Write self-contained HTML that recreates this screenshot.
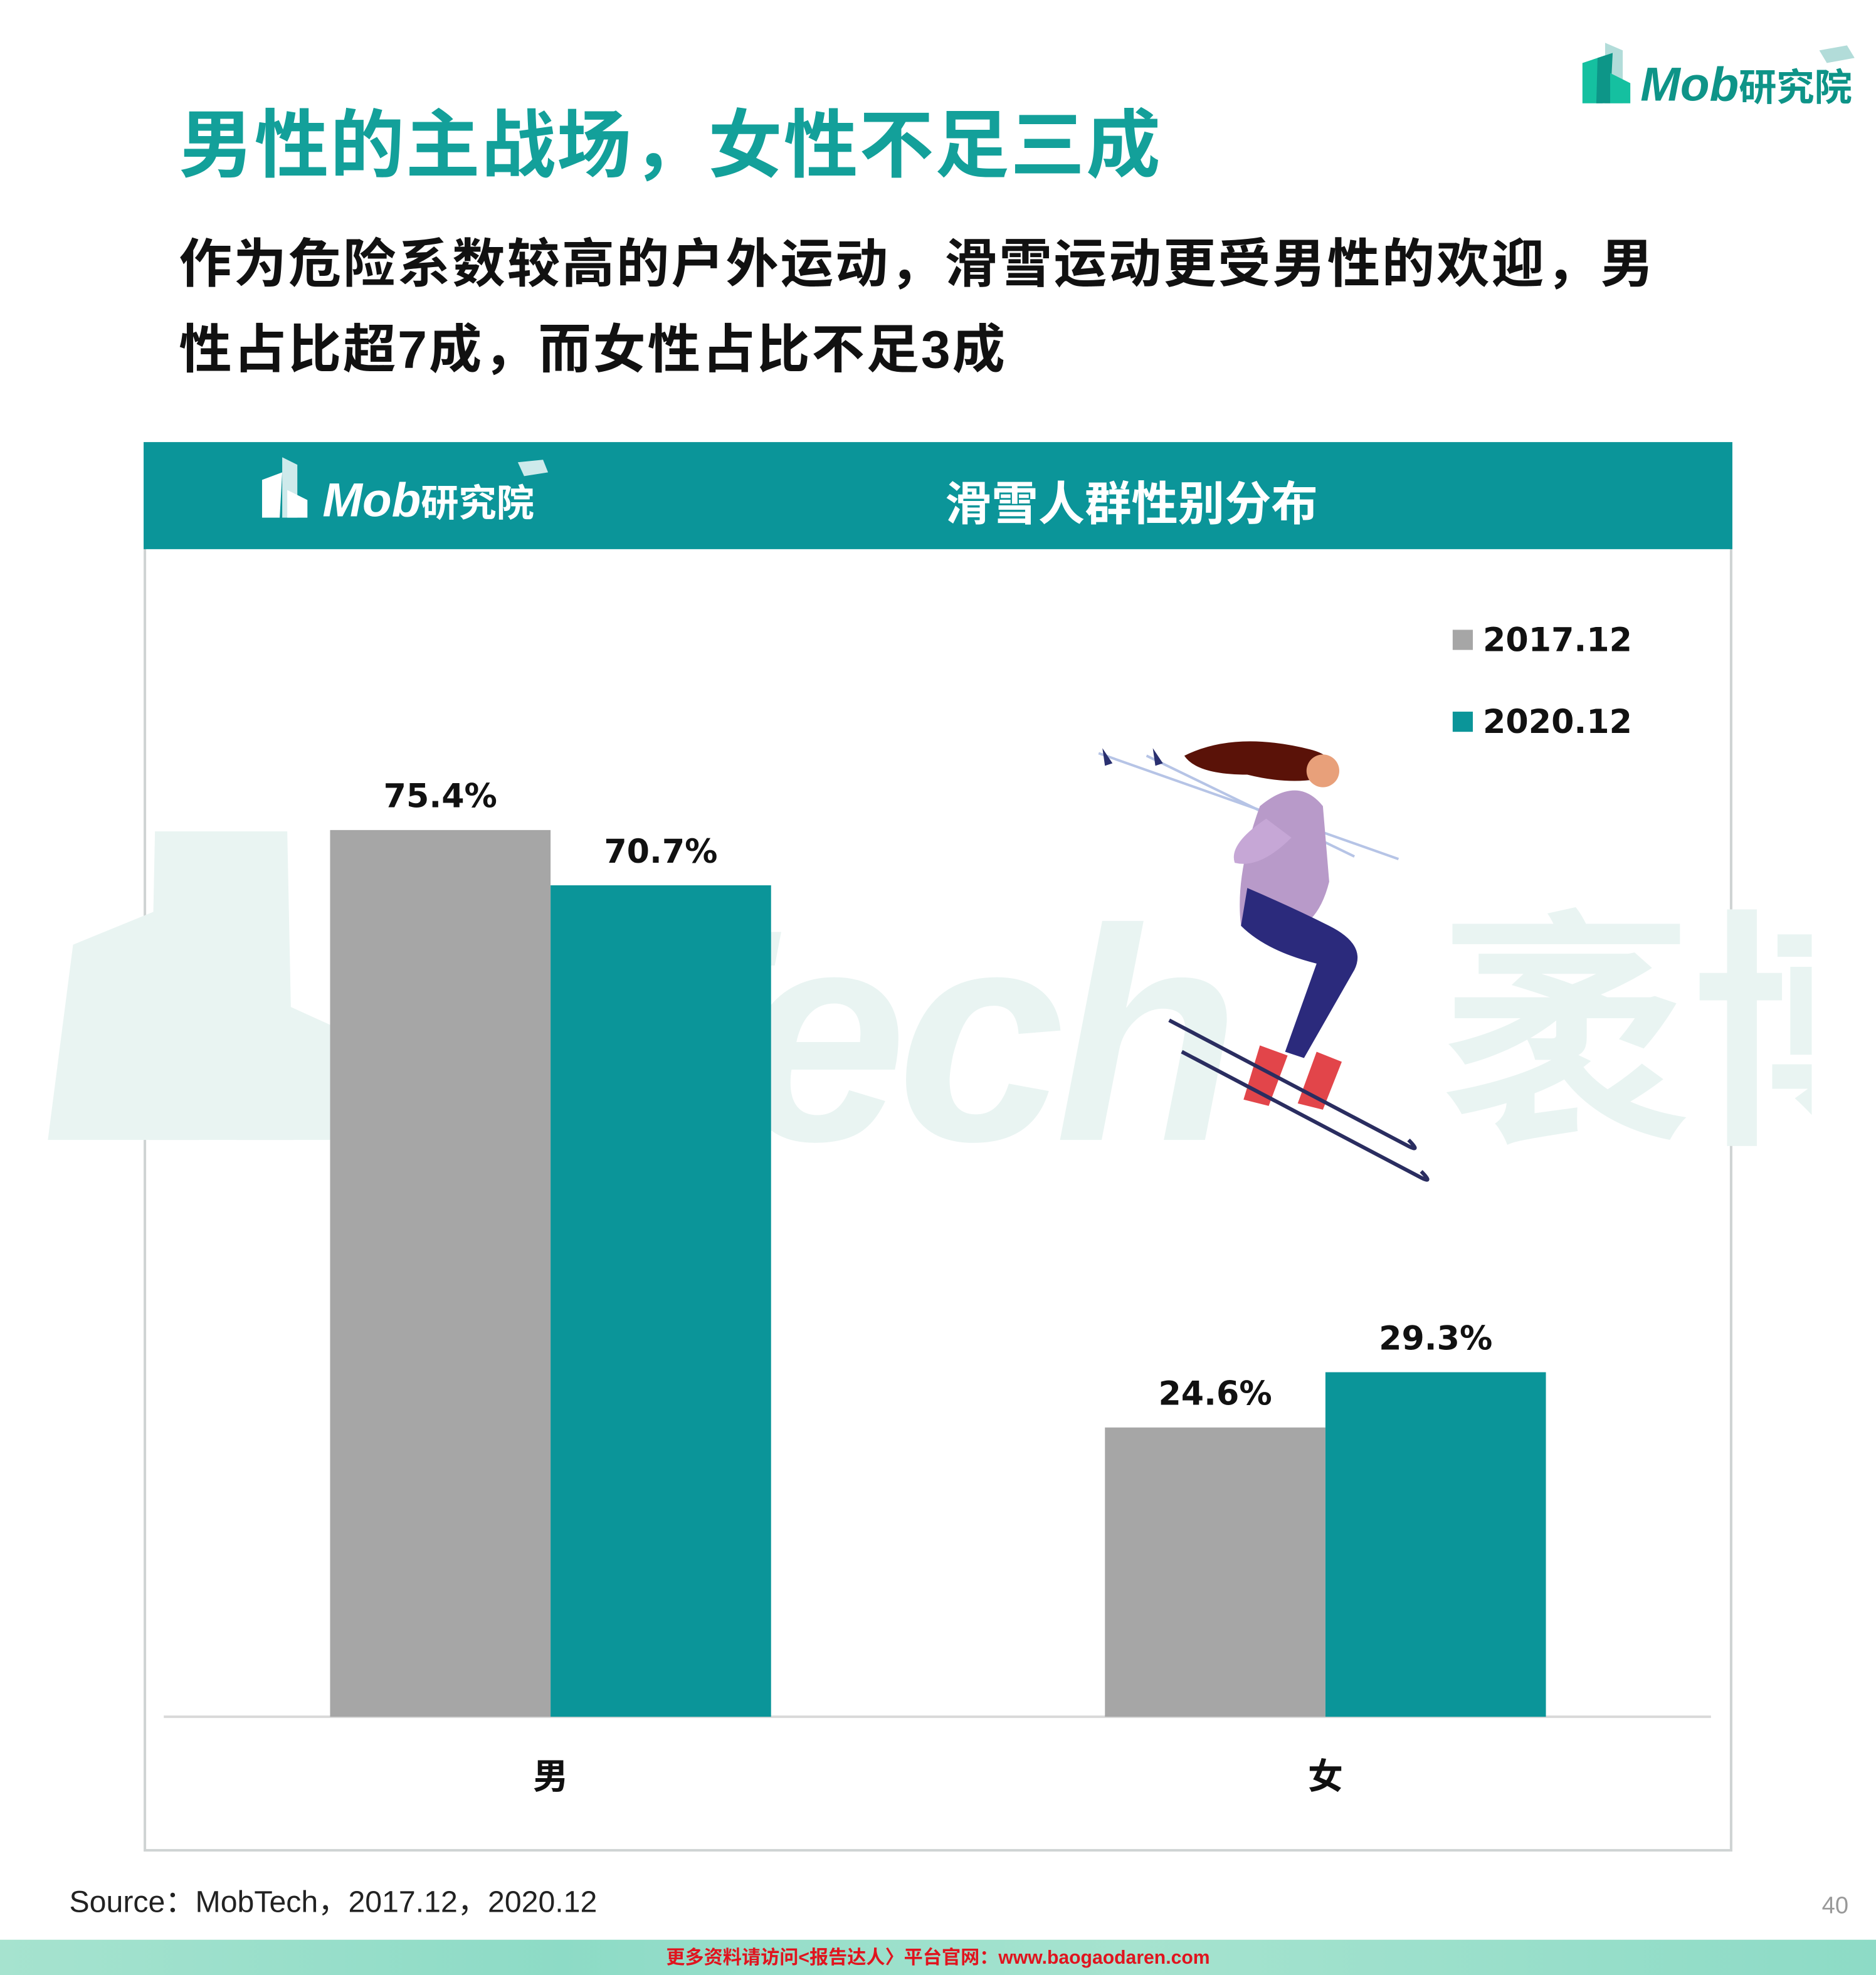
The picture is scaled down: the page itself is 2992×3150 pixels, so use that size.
<!DOCTYPE html>
<html><head><meta charset="utf-8">
<style>
html,body{margin:0;padding:0;background:#fff;width:2992px;height:3150px;overflow:hidden}
#root{position:absolute;left:0;top:0;width:1489px;height:1568px;overflow:hidden;transform:scale(2.00940,2.00893);transform-origin:0 0;font-family:"Liberation Sans","Noto Sans CJK SC",sans-serif}
.abs{position:absolute;white-space:nowrap}
</style></head><body>
<div id="root">
  <div class="abs" style="left:142px;top:68px;font-size:59px;font-weight:bold;color:#13a09a;letter-spacing:1px">男性的主战场，女性不足三成</div>
  <div class="abs" style="left:142px;top:176px;font-size:42px;font-weight:bold;color:#111;line-height:68px;white-space:normal;width:1200px;letter-spacing:1.4px">作为危险系数较高的户外运动，滑雪运动更受男性的欢迎，男性占比超7成，而女性占比不足3成</div>
  <div class="abs" style="left:1254px;top:32px;width:220px;height:52px">
    <svg width="220" height="52"><polygon points="20,2 34,8 34,50 20,50" fill="#b2dcd9"/><polygon points="2,18 20,12 18,50 2,50" fill="#15c0a0"/><polygon points="14,14 26,10 24,50 13,50" fill="#0d9688"/><polygon points="24,26 40,34 40,50 24,50" fill="#15c0a0"/><polygon points="190,8 212,4 218,14 196,18" fill="#b2dcd9"/>
    <text x="48" y="48" font-size="38" font-weight="bold" font-style="italic" fill="#0e9488" font-family="Liberation Sans, Noto Sans CJK SC, sans-serif">Mob<tspan font-size="30" font-style="normal">研究院</tspan></text></svg>
  </div>

  <div class="abs" style="left:114px;top:351px;width:1261px;height:1119px;border:2px solid #cfd3d3;box-sizing:border-box"></div>
  <div class="abs" style="left:114px;top:351px;width:1261px;height:85px;background:#0b9599"></div>
  <div class="abs" style="left:206px;top:363px">
    <svg width="240" height="52"><polygon points="18,0 30,6 30,48 18,48" fill="#fff" opacity=".8"/><polygon points="2,18 18,12 16,48 2,48" fill="#fff"/><polygon points="22,26 38,34 38,48 22,48" fill="#fff"/><polygon points="205,4 225,2 229,12 210,15" fill="#fff" opacity=".8"/>
    <text x="50" y="47" font-size="38" font-weight="bold" font-style="italic" fill="#fff" font-family="Liberation Sans, Noto Sans CJK SC, sans-serif">Mob<tspan font-size="30" font-style="normal">研究院</tspan></text></svg>
  </div>
  <div class="abs" style="left:750px;top:370px;font-size:37px;font-weight:bold;color:#fff">滑雪人群性别分布</div>

  <div class="abs" style="left:38px;top:660px;width:1400px;height:250px;overflow:hidden">
    <svg width="1400" height="250"><polygon points="0,245 20,90 130,45 120,245" fill="#e9f4f2"/><polygon points="85,0 190,0 195,245 80,245" fill="#e9f4f2"/><polygon points="150,120 260,170 250,245 150,245" fill="#e9f4f2"/>
    <text x="280" y="245" font-size="240" font-weight="bold" font-style="italic" fill="#e9f4f2" font-family="Liberation Sans, sans-serif" letter-spacing="-8">bTech</text>
    <text x="1105" y="232" font-size="200" font-weight="bold" fill="#e9f4f2" font-family="Noto Sans CJK SC, sans-serif">袤博</text></svg>
  </div>

  <svg id="chart" class="abs" style="left:0;top:0" width="1489" height="1568"></svg>

  <div class="abs" style="left:55px;top:1490px;font-size:24px;color:#222">Source：MobTech，2017.12，2020.12</div>
  <div class="abs" style="left:1446px;top:1503px;font-size:19px;color:#999">40</div>
  <div class="abs" style="left:0;top:1540px;width:1489px;height:28px;background:linear-gradient(90deg,#a6e3cf,#8ddbc6 30%,#a6e3cf 60%,#8ddbc6)"></div>
  <div class="abs" style="left:0;top:1543px;width:1489px;text-align:center;font-size:15px;font-weight:bold;color:#e0141e">更多资料请访问&lt;报告达人〉平台官网：www.baogaodaren.com</div>
</div>
<script>
const categories=["男","女"];
const series2017=[75.4,24.6];
const series2020=[70.7,29.3];
const seriesNames=["2017.12","2020.12"];
const NS="http://www.w3.org/2000/svg";
const svg=document.getElementById('chart');
const baseY=1363, pxPer=9.337;
const y=v=>baseY-v*pxPer;
const groupX=[262,877];
const barW=175;
function mk(t,a){const e=document.createElementNS(NS,t);for(const k in a)e.setAttribute(k,a[k]);svg.appendChild(e);return e;}
const sk=document.createElementNS(NS,'g');svg.appendChild(sk);


sk.innerHTML='<line x1="872" y1="598" x2="1110" y2="682" stroke="#b6c4e6" stroke-width="2"/><line x1="910" y1="600" x2="1075" y2="680" stroke="#b6c4e6" stroke-width="2"/><path d="M875 594 l8 12 -6 2z" fill="#2a3070"/><path d="M915 594 l8 12 -6 2z" fill="#2a3070"/><path d="M940 600 q40 -20 100 -5 q20 5 20 20 q-30 10 -70 0 q-40 0 -50 -15z" fill="#5a1208"/><path d="M1000 640 q30 -25 50 0 l5 60 q-10 40 -40 40 l-30 -5 q-5 -40 15 -95z" fill="#b89ac9"/><path d="M1005 650 q-30 20 -25 35 q20 5 45 -20" fill="#c6a7d6"/><circle cx="1050" cy="612" r="13" fill="#e8a07a"/><path d="M985 735 q20 20 60 30 l-25 70 l15 5 l40 -70 q10 -20 -20 -35 q-30 -15 -65 -30z" fill="#2b2a7c"/><path d="M1000 830 l22 8 -15 40 -20 -5z" fill="#e2454a"/><path d="M1045 835 l20 8 -15 38 -20 -5z" fill="#e2454a"/><path d="M928 810 l190 100 q10 5 0 -5" stroke="#2a2d60" stroke-width="3" fill="none"/><path d="M938 835 l190 100 q10 5 0 -5" stroke="#2a2d60" stroke-width="3" fill="none"/>';
const bl=mk('line',{x1:130,y1:baseY,x2:1358,y2:baseY,stroke:'#d9d9d9','stroke-width':2});


categories.forEach((c,i)=>{
  const vals=[series2017[i],series2020[i]];
  vals.forEach((v,j)=>{
    const x=groupX[i]+j*barW;
    const r=mk('rect',{x:x,y:y(v),width:barW,height:baseY-y(v),fill:j?'#0b9599':'#a6a6a6'});
    
    
    const t=mk('text',{x:x+barW/2,y:y(v)-18,'text-anchor':'middle','font-size':26,'font-weight':'bold',fill:'#111','font-family':'DejaVu Sans, sans-serif'});
    t.textContent=v.toFixed(1)+'%';
    
    
  });
  const ct=mk('text',{x:groupX[i]+barW,y:1420,'text-anchor':'middle','font-size':28,'font-weight':'bold',fill:'#111','font-family':'Noto Sans CJK SC, sans-serif'});
  ct.textContent=c;
  
  
});
seriesNames.forEach((n,j)=>{
  const yy=500+j*65;
  const s=mk('rect',{x:1153,y:yy,width:16,height:16,fill:j?'#0b9599':'#a6a6a6'});
  
  
  const t=mk('text',{x:1177,y:yy+17,'font-size':26,'font-weight':'bold',fill:'#111','font-family':'DejaVu Sans, sans-serif'});
  t.textContent=n;
  
  
});
</script>
</body></html>
